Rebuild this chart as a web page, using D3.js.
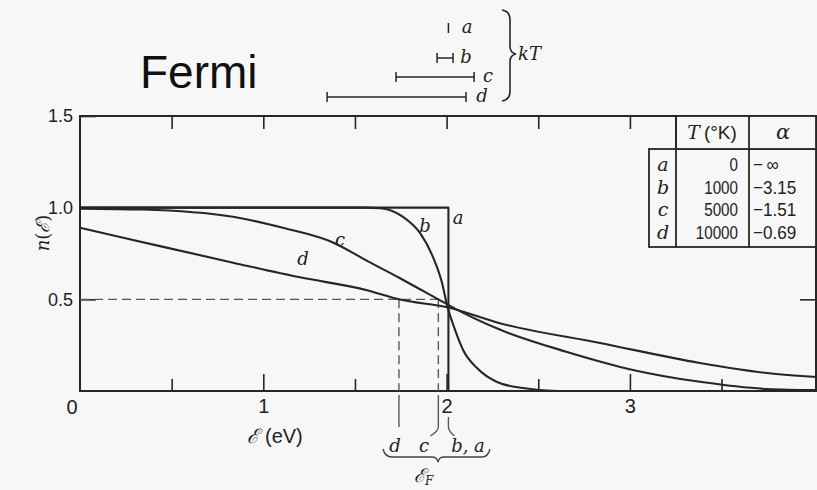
<!DOCTYPE html>
<html>
<head>
<meta charset="utf-8">
<script src="https://cdn.jsdelivr.net/npm/d3@7"></script>
<style>
  html, body { margin: 0; padding: 0; background: #f7f7f7; }
  svg { display: block; }
</style>
</head>
<body>
<svg id="chart" width="817" height="490"></svg>
<script>
// ---- data ---------------------------------------------------------------
// Fermi–Dirac occupancy n(E) at four temperatures, as (energy in eV, n) pairs
const curveA = [[0, 1.0], [2.01, 1.0], [2.01, 0.0]];
const curveB = [[0, 1.0], [1.55, 1.0], [1.637, 0.997], [1.762, 0.95], [1.855, 0.862],
                [1.926, 0.73], [1.975, 0.59], [2.002, 0.47], [2.046, 0.333], [2.09, 0.224],
                [2.166, 0.125], [2.275, 0.049], [2.417, 0.016], [2.6, 0.0], [4.02, 0.0]];
const curveC = [[0, 0.995], [0.344, 0.99], [0.835, 0.95], [1.107, 0.89], [1.38, 0.81],
                [1.566, 0.71], [1.746, 0.615], [1.855, 0.555], [1.955, 0.5], [2.008, 0.47],
                [2.29, 0.335], [2.657, 0.213], [3.017, 0.115], [3.382, 0.05], [3.748, 0.011],
                [4.02, 0.005]];
const curveD = [[0, 0.89], [0.289, 0.824], [0.835, 0.70], [1.2, 0.62], [1.566, 0.55],
                [1.74, 0.5], [2.008, 0.455], [2.29, 0.37], [2.837, 0.262], [3.382, 0.153],
                [3.748, 0.098], [4.02, 0.076]];
const curveNames = ["a", "b", "c", "d"];

// Fermi energies (eV) marked under the axis
const fermiEnergyD = 1.74;
const fermiEnergyC = 1.955;
const fermiEnergyAB = 2.01;
const halfOccupancy = 0.5;

// kT interval bars (start / end in eV) for each curve
const kTStart = [2.01, 1.948, 1.724, 1.348];
const kTEnd   = [2.01, 2.035, 2.15, 2.106];

// table of temperatures and α
const temperatures = [0, 1000, 5000, 10000];
const alphaLabels = ["\u2212\u2009\u221E", "\u22123.15", "\u22121.51", "\u22120.69"];

// axis ticks
const energyMajorTicks = [1, 2, 3];
const energyMinorTicks = [0.5, 1.5, 2.5, 3.5];
const energyTopTicks = [0.5, 1, 1.5, 2, 2.5, 3];
const occupancyTicks = [0.5, 1.0, 1.5];
const originLabel = "0";

// ---- layout -------------------------------------------------------------
const W = 817, H = 490;
const frame = { left: 80, right: 816, top: 116, bottom: 391 };
const ink = "#262626";
const paper = "#f7f7f7";
const serif = "'DejaVu Serif', 'Liberation Serif', serif";
const sans = "'Liberation Sans', Arial, sans-serif";

const svg = d3.select("#chart");
svg.append("rect").attr("width", W).attr("height", H).attr("fill", paper);

const x = d3.scaleLinear().domain([0, 4]).range([frame.left, frame.left + 4 * 183.3]);
const y = d3.scaleLinear().domain([0, 1.5]).range([frame.bottom, frame.top]);

// ---- title --------------------------------------------------------------
svg.append("text").attr("x", 140).attr("y", 88)
  .attr("font-family", sans).attr("font-size", 46).attr("fill", "#111")
  .text("Fermi");

// ---- frame --------------------------------------------------------------
svg.append("rect")
  .attr("x", frame.left).attr("y", frame.top)
  .attr("width", frame.right - frame.left).attr("height", frame.bottom - frame.top)
  .attr("fill", "none").attr("stroke", ink).attr("stroke-width", 2);

function styleAxis(g, size) {
  g.select(".domain").remove();
  g.selectAll(".tick line").attr("stroke", ink).attr("stroke-width", 1.6);
  g.selectAll("text").attr("font-family", sans).attr("font-size", size).attr("fill", "#222");
}

svg.append("g").attr("transform", `translate(0,${frame.bottom})`)
  .call(d3.axisBottom(x).tickValues(energyMajorTicks).tickSizeInner(-17).tickSizeOuter(0)
        .tickPadding(8).tickFormat(d3.format("d")))
  .call(g => styleAxis(g, 20));
svg.append("g").attr("transform", `translate(0,${frame.bottom})`)
  .call(d3.axisBottom(x).tickValues(energyMinorTicks).tickSizeInner(-12).tickSizeOuter(0).tickFormat(""))
  .call(g => styleAxis(g, 20));
svg.append("g").attr("transform", `translate(0,${frame.top})`)
  .call(d3.axisTop(x).tickValues(energyTopTicks).tickSizeInner(-13).tickSizeOuter(0).tickFormat(""))
  .call(g => styleAxis(g, 20));
svg.append("g").attr("transform", `translate(${frame.left},0)`)
  .call(d3.axisLeft(y).tickValues(occupancyTicks).tickSizeInner(-16).tickSizeOuter(0)
        .tickPadding(7).tickFormat(d3.format(".1f")))
  .call(g => styleAxis(g, 18));
svg.append("g").attr("transform", `translate(${frame.right},0)`)
  .call(d3.axisRight(y).tickValues([halfOccupancy]).tickSizeInner(-16).tickSizeOuter(0).tickFormat(""))
  .call(g => styleAxis(g, 18));

// origin label shared by both axes
svg.append("text").attr("x", x(0) - 8).attr("y", frame.bottom + 23)
  .attr("text-anchor", "middle").attr("font-family", sans).attr("font-size", 20)
  .attr("fill", "#222").text(originLabel);

// axis titles
const xTitle = svg.append("text").attr("x", 247).attr("y", 443).attr("fill", "#222");
xTitle.append("tspan").attr("font-family", serif).attr("font-style", "italic")
  .attr("font-size", 20).text("\u2130");
xTitle.append("tspan").attr("font-family", sans).attr("font-size", 20).attr("dx", 6).text("(eV)");

const yTitle = svg.append("text").attr("transform", "translate(49,233) rotate(-90)")
  .attr("text-anchor", "middle").attr("fill", "#222")
  .attr("font-family", serif).attr("font-style", "italic").attr("font-size", 18);
yTitle.append("tspan").text("n");
yTitle.append("tspan").attr("font-style", "normal").text("(");
yTitle.append("tspan").text("\u2130");
yTitle.append("tspan").attr("font-style", "normal").text(")");

// ---- dashed Fermi-level guides -----------------------------------------
const guides = svg.append("g").attr("stroke", "#5a5a5a").attr("stroke-width", 1.4).attr("fill", "none");
guides.append("line")
  .attr("x1", x(0)).attr("x2", x(fermiEnergyC))
  .attr("y1", y(halfOccupancy)).attr("y2", y(halfOccupancy))
  .attr("stroke-dasharray", "9,5");
[fermiEnergyD, fermiEnergyC].forEach(e => {
  guides.append("line").attr("x1", x(e)).attr("x2", x(e))
    .attr("y1", y(halfOccupancy)).attr("y2", y(0)).attr("stroke-dasharray", "9,5");
});
// leaders below the axis
guides.append("line").attr("x1", x(fermiEnergyD)).attr("x2", x(fermiEnergyD))
  .attr("y1", y(0) + 4).attr("y2", 427);
guides.append("path").attr("d",
  `M${x(fermiEnergyC)},${y(0) + 4} V427 Q${x(fermiEnergyC)},431 ${x(fermiEnergyC) - 8},436`);
guides.append("path").attr("d",
  `M${x(fermiEnergyAB)},417 V427 Q${x(fermiEnergyAB)},431 ${x(fermiEnergyAB) + 6},436`);

// ---- curves -------------------------------------------------------------
const smooth = d3.line().x(d => x(d[0])).y(d => y(d[1])).curve(d3.curveMonotoneX);
const straight = d3.line().x(d => x(d[0])).y(d => y(d[1]));
const curves = svg.append("g").attr("fill", "none").attr("stroke", ink)
  .attr("stroke-width", 2.1).attr("stroke-linejoin", "round");
curves.append("path").attr("d", straight(curveA));
[curveB, curveC, curveD].forEach(c => curves.append("path").attr("d", smooth(c)));

// curve letters
const letterPos = [[458, 224], [425, 232], [340, 246], [303, 265]];
curveNames.forEach((n, i) => {
  svg.append("text").attr("x", letterPos[i][0]).attr("y", letterPos[i][1])
    .attr("text-anchor", "middle").attr("font-family", serif).attr("font-style", "italic")
    .attr("font-size", 18).attr("fill", "#222").text(n);
});

// ---- Fermi-energy labels under the axis --------------------------------
const under = svg.append("g").attr("font-family", serif).attr("font-style", "italic")
  .attr("font-size", 18).attr("fill", "#222").attr("text-anchor", "middle");
under.append("text").attr("x", 395).attr("y", 452).text(curveNames[3]);
under.append("text").attr("x", 424).attr("y", 452).text(curveNames[2]);
under.append("text").attr("x", 468).attr("y", 452).text(`${curveNames[1]}, ${curveNames[0]}`);
svg.append("path").attr("fill", "none").attr("stroke", "#444").attr("stroke-width", 1.4)
  .attr("d", "M383,449 Q385,457 392,457 L432,457 Q437,457 438,462 Q439,457 444,457 L482,457 Q488,457 490,449");
const ef = svg.append("text").attr("x", 414).attr("y", 482).attr("fill", "#222")
  .attr("font-family", serif).attr("font-style", "italic").attr("font-size", 19);
ef.append("tspan").text("\u2130");
ef.append("tspan").attr("font-size", 12).attr("dy", 3).text("F");

// ---- kT bars ------------------------------------------------------------
const barY = [28, 58, 77, 97];
const bars = svg.append("g").attr("stroke", ink).attr("stroke-width", 1.5);
curveNames.forEach((n, i) => {
  const x0 = x(kTStart[i]), x1 = x(kTEnd[i]);
  if (x1 - x0 > 1) {
    bars.append("line").attr("x1", x0).attr("x2", x1).attr("y1", barY[i]).attr("y2", barY[i]);
    bars.append("line").attr("x1", x0).attr("x2", x0).attr("y1", barY[i] - 5).attr("y2", barY[i] + 5);
  }
  bars.append("line").attr("x1", x1).attr("x2", x1).attr("y1", barY[i] - 5).attr("y2", barY[i] + 5);
});
const barLabelX = [467, 466, 488, 482];
curveNames.forEach((n, i) => {
  svg.append("text").attr("x", barLabelX[i]).attr("y", barY[i] + 5)
    .attr("text-anchor", "middle").attr("font-family", serif).attr("font-style", "italic")
    .attr("font-size", 18).attr("fill", "#222").text(n);
});
svg.append("path").attr("fill", "none").attr("stroke", ink).attr("stroke-width", 1.6)
  .attr("d", "M502,10 Q510,11 510,20 L510,46 Q510,53 516,54 Q510,55 510,62 L510,91 Q510,100 502,101");
svg.append("text").attr("x", 518).attr("y", 60).attr("fill", "#222")
  .attr("font-family", serif).attr("font-style", "italic").attr("font-size", 18).text("kT");

// ---- temperature table --------------------------------------------------
const tbl = { left: 649, c1: 676, c2: 749, right: frame.right, top: frame.top, head: 149, bottom: 247 };
const tg = svg.append("g").attr("stroke", ink).attr("stroke-width", 1.8).attr("fill", "none");
tg.append("rect").attr("x", tbl.left).attr("y", tbl.head)
  .attr("width", tbl.right - tbl.left).attr("height", tbl.bottom - tbl.head).attr("fill", paper);
tg.append("rect").attr("x", tbl.c1).attr("y", tbl.top)
  .attr("width", tbl.right - tbl.c1).attr("height", tbl.head - tbl.top).attr("fill", paper);
tg.append("line").attr("x1", tbl.c1).attr("x2", tbl.c1).attr("y1", tbl.top).attr("y2", tbl.bottom);
tg.append("line").attr("x1", tbl.c2).attr("x2", tbl.c2).attr("y1", tbl.top).attr("y2", tbl.bottom);

const head = svg.append("text").attr("x", 712).attr("y", 139).attr("text-anchor", "middle")
  .attr("fill", "#222").attr("font-size", 19);
head.append("tspan").attr("font-family", serif).attr("font-style", "italic").text("T");
head.append("tspan").attr("font-family", sans).attr("dx", 4).text("(\u00B0K)");
svg.append("text").attr("x", 783).attr("y", 139).attr("text-anchor", "middle")
  .attr("font-family", serif).attr("font-style", "italic").attr("font-size", 21)
  .attr("fill", "#222").text("\u03B1");

const rowY = [171, 194, 216, 239];
curveNames.forEach((n, i) => {
  svg.append("text").attr("x", 663).attr("y", rowY[i]).attr("text-anchor", "middle")
    .attr("font-family", serif).attr("font-style", "italic").attr("font-size", 19)
    .attr("fill", "#222").text(n);
  svg.append("g").attr("transform", `translate(738,${rowY[i]}) scale(0.8,1)`)
    .append("text").attr("text-anchor", "end").attr("font-family", sans)
    .attr("font-size", 19).attr("fill", "#222").text(d3.format("d")(temperatures[i]));
  svg.append("g").attr("transform", `translate(753,${rowY[i]}) scale(0.9,1)`)
    .append("text").attr("font-family", sans)
    .attr("font-size", 19).attr("fill", "#222").text(alphaLabels[i]);
});
</script>
</body>
</html>
